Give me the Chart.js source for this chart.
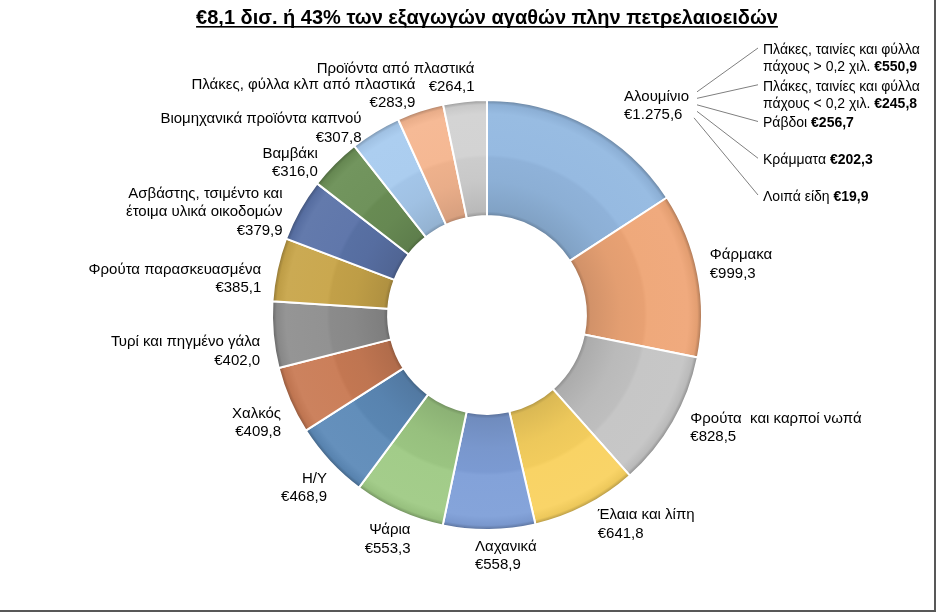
<!DOCTYPE html>
<html>
<head>
<meta charset="utf-8">
<script src="https://cdn.jsdelivr.net/npm/chart.js@4.4.0/dist/chart.umd.min.js"></script>
<style>
  html, body { margin: 0; padding: 0; background: #fff; }
  #wrap { width: 936px; height: 612px; }
</style>
</head>
<body>
<div id="wrap"><canvas id="chart" width="936" height="612"></canvas></div>
<script>
// Chart data
const titleText = "€8,1 δισ. ή 43% των εξαγωγών αγαθών πλην πετρελαιοειδών";
const categories = [
    "Αλουμίνιο",
    "Φάρμακα",
    "Φρούτα  και καρποί νωπά",
    "Έλαια και λίπη",
    "Λαχανικά",
    "Ψάρια",
    "Η/Υ",
    "Χαλκός",
    "Τυρί και πηγμένο γάλα",
    "Φρούτα παρασκευασμένα",
    "Ασβάστης, τσιμέντο και\nέτοιμα υλικά οικοδομών",
    "Βαμβάκι",
    "Βιομηχανικά προϊόντα καπνού",
    "Πλάκες, φύλλα κλπ από πλαστικά",
    "Προϊόντα από πλαστικά"
];
const values = [1275.6, 999.3, 828.5, 641.8, 558.9, 553.3, 468.9, 409.8, 402.0, 385.1, 379.9, 316.0, 307.8, 283.9, 264.1];

// breakdown of the first category (aluminium)
const subCategories = [
    "Πλάκες, ταινίες και φύλλα\nπάχους > 0,2 χιλ.",
    "Πλάκες, ταινίες και φύλλα\nπάχους < 0,2 χιλ.",
    "Ράβδοι",
    "Κράμματα",
    "Λοιπά είδη"
];
const subValues = [550.9, 245.8, 256.7, 202.3, 19.9];

const colors = [
    "#93b8e0", "#efa677", "#c4c4c4", "#f9d260", "#7f9fd8",
    "#9fca85", "#5d8ab8", "#c97b55", "#8f8f8f", "#c8a54a",
    "#5b73a8", "#6b8f56", "#a8cbef", "#f5b690", "#d2d2d2"
];

const FONT = '"Liberation Sans", Arial, sans-serif';

function fmt(v) {
    const parts = v.toFixed(1).split(".");
    const whole = parts[0].replace(/\B(?=(\d{3})+(?!\d))/g, ".");
    return "€" + whole + "," + parts[1];
}

function shade(hex, f) {
    const n = parseInt(hex.slice(1), 16);
    const ch = [n >> 16, (n >> 8) & 255, n & 255].map(x => {
        const y = f < 1 ? x * f : x + (255 - x) * (f - 1);
        return Math.round(Math.max(0, Math.min(255, y)));
    });
    return "rgb(" + ch.join(",") + ")";
}

// radial shading to mimic the bevelled office look
function shadedFill(c) {
    const chart = c.chart;
    const base = colors[c.dataIndex];
    const ctrl = chart.getDatasetMeta(0).controller;
    const area = chart.chartArea;
    if (!area || !ctrl || !ctrl.outerRadius) return base;
    const cx = (area.left + area.right) / 2;
    const cy = (area.top + area.bottom) / 2;
    const g = chart.ctx.createRadialGradient(cx, cy, ctrl.innerRadius, cx, cy, ctrl.outerRadius);
    g.addColorStop(0, shade(base, 0.7));
    g.addColorStop(0.04, shade(base, 0.88));
    g.addColorStop(0.3, shade(base, 0.95));
    g.addColorStop(0.5, shade(base, 0.97));
    g.addColorStop(0.53, shade(base, 1.03));
    g.addColorStop(0.88, shade(base, 1.05));
    g.addColorStop(0.96, shade(base, 0.95));
    g.addColorStop(1, shade(base, 0.7));
    return g;
}

const titlePlugin = {
    id: "underlinedTitle",
    afterDraw(chart) {
        const ctx = chart.ctx;
        const area = chart.chartArea;
        const x = (area.left + area.right) / 2;
        ctx.save();
        ctx.font = "bold 20px " + FONT;
        ctx.fillStyle = "#000";
        ctx.textAlign = "center";
        ctx.textBaseline = "alphabetic";
        ctx.fillText(titleText, x, 24);
        const w = ctx.measureText(titleText).width;
        ctx.fillRect(x - w / 2, 26, w, 1.6);
        ctx.restore();
    }
};

const framePlugin = {
    id: "frame",
    afterDraw(chart) {
        const ctx = chart.ctx;
        ctx.save();
        ctx.fillStyle = "#585858";
        ctx.fillRect(chart.width - 2, 0, 2, chart.height);
        ctx.fillRect(0, chart.height - 2, chart.width, 2);
        ctx.restore();
    }
};

function lineBoxes(lb) {
    return lb.lines.map((ln, k) => {
        const w = lb.widths[k];
        const x0 = lb.rightEdge ? lb.x - w : lb.x;
        return { x0: x0 - 4, x1: x0 + w + 4, y: lb.y - lb.h / 2 + lb.lh * (k + 0.5) };
    });
}

// push apart labels whose lines collide
function relax(labels) {
    for (let it = 0; it < 60; it++) {
        let moved = false;
        for (let i = 0; i < labels.length; i++) {
            for (let j = i + 1; j < labels.length; j++) {
                let need = 0;
                lineBoxes(labels[i]).forEach(a => {
                    lineBoxes(labels[j]).forEach(b => {
                        if (a.x1 < b.x0 || b.x1 < a.x0) return;
                        const d = Math.abs(a.y - b.y);
                        if (d < 16) need = Math.max(need, 16 - d);
                    });
                });
                if (need > 0.1) {
                    const dir = labels[i].y < labels[j].y ? -1 : 1;
                    labels[i].y += dir * need / 2;
                    labels[j].y -= dir * need / 2;
                    moved = true;
                }
            }
        }
        if (!moved) break;
    }
}

const labelPlugin = {
    id: "outLabels",
    afterDatasetsDraw(chart) {
        const ctx = chart.ctx;
        const meta = chart.getDatasetMeta(0);
        const area = chart.chartArea;
        const sx = area.right + 60;       // left edge of the aluminium breakdown
        const lh = 18.5;
        ctx.save();
        ctx.font = "15px " + FONT;
        const labels = meta.data.map((arc, i) => {
            const p = arc.getProps(["x", "y", "startAngle", "endAngle", "outerRadius"], true);
            const mid = (p.startAngle + p.endAngle) / 2 - 0.044;
            const c = Math.cos(mid), s = Math.sin(mid);
            // labels close to the vertical axis are pulled towards it
            const pull = 25 * Math.exp(-Math.pow(c / 0.35, 2));
            const lines = categories[i].split("\n").concat(fmt(values[i]));
            const widths = lines.map(ln => ctx.measureText(ln).width);
            const lb = {
                lines, widths, lh, h: lines.length * lh,
                x: p.x + c * (p.outerRadius + 14) - Math.sign(c) * pull,
                y: p.y + 4 + s * (p.outerRadius + 22),
                rightEdge: c < 0
            };
            if (i === 0) {
                // parent label of the breakdown sits just left of the callout
                lb.x = sx - 74;
                lb.rightEdge = true;
            }
            return lb;
        });
        relax(labels);

        ctx.fillStyle = "#000";
        ctx.textBaseline = "middle";
        labels.forEach((lb, i) => {
            const maxW = Math.max(...lb.widths);
            lb.lines.forEach((ln, k) => {
                const y = lb.y - lb.h / 2 + lh * (k + 0.5);
                if (i === 0) {
                    ctx.textAlign = "left";
                    ctx.fillText(ln, lb.x - maxW, y);
                } else {
                    ctx.textAlign = lb.rightEdge ? "right" : "left";
                    ctx.fillText(ln, lb.x, y);
                }
            });
        });
        ctx.restore();

        // breakdown of aluminium with leader lines
        const alu = labels[0];
        const firstY = area.top - 49;
        const step = 36.75;
        ctx.save();
        ctx.textAlign = "left";
        ctx.textBaseline = "middle";
        ctx.strokeStyle = "#7f7f7f";
        ctx.lineWidth = 1;
        subCategories.forEach((name, k) => {
            const y0 = firstY + k * step;
            const lines = name.split("\n");
            ctx.fillStyle = "#000";
            lines.forEach((ln, j) => {
                const y = y0 + j * 17;
                ctx.font = "14px " + FONT;
                ctx.fillText(ln, sx, y);
                if (j === lines.length - 1) {
                    const w = ctx.measureText(ln + " ").width;
                    ctx.font = "bold 14px " + FONT;
                    ctx.fillText(fmt(subValues[k]), sx + w, y);
                }
            });
            ctx.beginPath();
            ctx.moveTo(alu.x + 8 - (k === 4 ? 3 : 0), alu.y - 14 + k * 6.5);
            ctx.lineTo(sx - 5, y0 - 2);
            ctx.stroke();
        });
        ctx.restore();
    }
};

new Chart(document.getElementById("chart").getContext("2d"), {
    type: "doughnut",
    data: {
        labels: categories,
        datasets: [{
            data: values,
            backgroundColor: shadedFill,
            borderColor: "#ffffff",
            borderWidth: 2
        }]
    },
    options: {
        responsive: false,
        animation: false,
        cutout: "46%",
        layout: { padding: { top: 99, bottom: 81, left: 271, right: 233 } },
        plugins: {
            legend: { display: false },
            tooltip: { enabled: false },
            title: { display: false }
        }
    },
    plugins: [labelPlugin, titlePlugin, framePlugin]
});
</script>
</body>
</html>
